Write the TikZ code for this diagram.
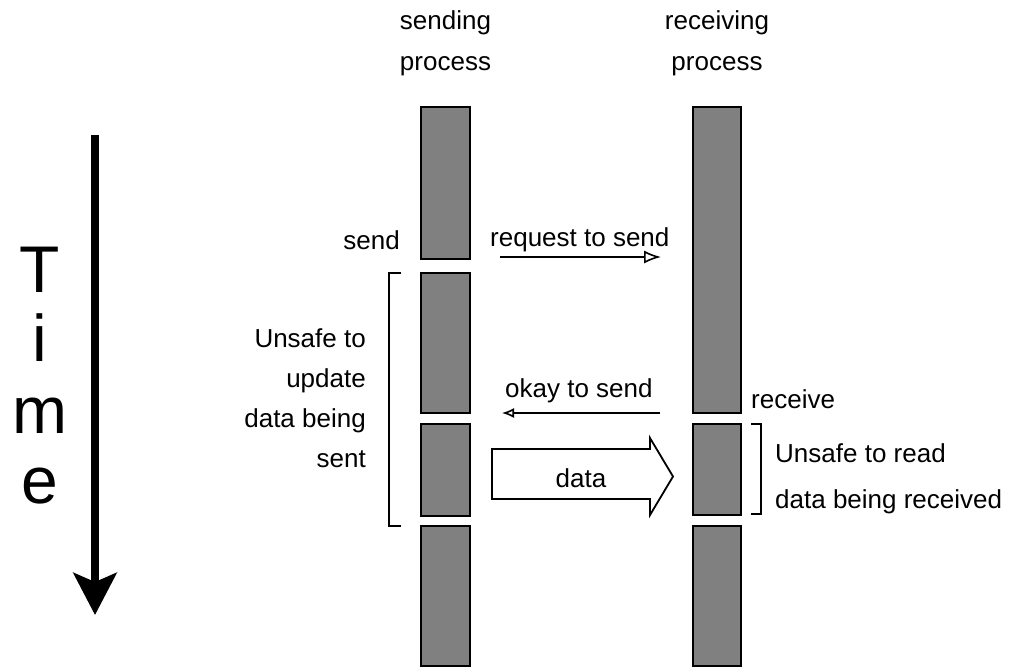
\documentclass[tikz,border=0pt]{standalone}
\usepackage{fontspec}
\setmainfont{Liberation Sans}
\usetikzlibrary{arrows.meta}
\definecolor{blockgray}{HTML}{808080}
\begin{document}
\begin{tikzpicture}[x=1pt,y=-1pt,
  block/.style={draw=black, line width=1.8pt, fill=blockgray, inner sep=0pt},
  lbl/.style={font=\fontsize{26}{40}\selectfont, inner sep=0pt},
  timeletter/.style={font=\fontsize{66}{70}\selectfont, inner sep=0pt, anchor=base},
  bracketline/.style={line width=1.8pt},
  msgline/.style={line width=1.6pt},
  bigarrow/.style={line width=1.8pt, fill=white, line join=miter},
]
\useasboundingbox (0,0) rectangle (1015,670);

% process column headings
\node[lbl, anchor=base] (sendh1) at (445.5,29) {sending};
\node[lbl, anchor=base] (sendh2) at (445.5,70) {process};
\node[lbl, anchor=base] (recvh1) at (717,29) {receiving};
\node[lbl, anchor=base] (recvh2) at (717,70) {process};

% sending process timeline
\node[block, minimum width=49pt, minimum height=152pt] (s1) at (445.5,183) {};
\node[block, minimum width=49pt, minimum height=140pt] (s2) at (445.5,343) {};
\node[block, minimum width=49pt, minimum height=92pt]  (s3) at (445.5,470) {};
\node[block, minimum width=49pt, minimum height=140pt] (s4) at (445.5,596) {};

% receiving process timeline
\node[block, minimum width=48pt, minimum height=306pt] (r1) at (717,260) {};
\node[block, minimum width=48pt, minimum height=91pt]  (r2) at (717,469.5) {};
\node[block, minimum width=48pt, minimum height=140pt] (r3) at (717,596) {};

% time axis
\coordinate (timeA) at (95,135);
\coordinate (timeB) at (95,615);
\draw[line width=8pt, -{Stealth[length=42pt,width=43pt,inset=9pt]}] (timeA) -- (timeB);
\node[timeletter] (tT) at (40,292) {T};
\node[timeletter] (tI) at (40,361) {i};
\node[timeletter] (tM) at (40,433) {m};
\node[timeletter] (tE) at (40,503) {e};

% send / request to send
\node[lbl, anchor=base east] (sendlbl) at (400,249) {send};
\node[lbl, anchor=base west] (reqlbl) at (490,246) {request to send};
\coordinate (reqA) at (500,257);
\coordinate (reqB) at (661,257);
\draw[msgline, -{Latex[open,length=17pt,width=13pt]}] (reqA) -- (reqB);

% okay to send / receive
\node[lbl, anchor=base west] (oklbl) at (505,397) {okay to send};
\coordinate (okA) at (660,413);
\coordinate (okB) at (502,413);
\draw[msgline, -{Latex[open,length=12pt,width=10pt]}] (okA) -- (okB);
\node[lbl, anchor=base west] (recvlbl) at (751,408) {receive};

% data transfer
\draw[bigarrow] (492,449) -- (650,449) -- (650,438) -- (673,476.5)
  -- (650,515) -- (650,499) -- (492,499) -- cycle;
\node[lbl, anchor=base] (datalbl) at (581,487) {data};

% unsafe interval on the sender
\draw[bracketline] (401,273) -- (389,273) -- (389,526) -- (401,526);
\node[lbl, anchor=base east] (ul1) at (366,347) {Unsafe to};
\node[lbl, anchor=base east] (ul2) at (366,387) {update};
\node[lbl, anchor=base east] (ul3) at (366,427) {data being};
\node[lbl, anchor=base east] (ul4) at (366,467) {sent};

% unsafe interval on the receiver
\draw[bracketline] (751,424) -- (761,424) -- (761,514) -- (751,514);
\node[lbl, anchor=base west] (ur1) at (775,462) {Unsafe to read};
\node[lbl, anchor=base west] (ur2) at (775,508) {data being received};
\end{tikzpicture}
\end{document}
